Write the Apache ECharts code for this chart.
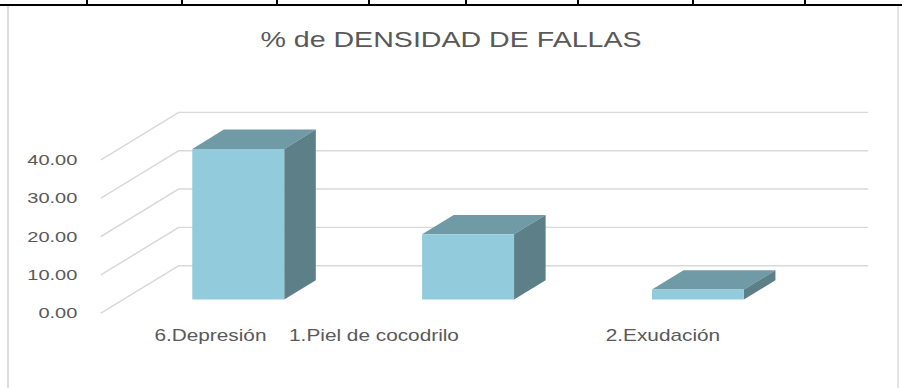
<!DOCTYPE html>
<html>
<head>
<meta charset="utf-8">
<script src="https://cdn.jsdelivr.net/npm/echarts@6/dist/echarts.min.js"></script>
<style>
  html, body { margin: 0; padding: 0; background: #ffffff; overflow: hidden; }
  body { width: 902px; height: 388px; position: relative; }
  /* document table rule above the chart box */
  .rule { position: absolute; left: 0; top: 4px; width: 902px; height: 2px; background: #000; }
  .tick { position: absolute; top: 0; width: 2px; height: 5px; background: #000; }
  /* chart frame */
  .frame { position: absolute; left: 7px; top: 6px; width: 892px; height: 382px;
           border-left: 2px solid #dcdcdc; border-right: 2px solid #e4e4e4; box-sizing: border-box; }
  /* the chart is laid out narrow and widened horizontally */
  #chart { position: absolute; left: 0; top: 0; width: 694px; height: 388px;
           transform: scaleX(1.2997); transform-origin: 0 0; }
</style>
</head>
<body>
<div class="rule"></div>
<div class="tick" style="left:86px"></div>
<div class="tick" style="left:181px"></div>
<div class="tick" style="left:276px"></div>
<div class="tick" style="left:368px"></div>
<div class="tick" style="left:465px"></div>
<div class="tick" style="left:577px"></div>
<div class="tick" style="left:692px"></div>
<div class="tick" style="left:804px"></div>
<div class="frame"></div>
<div id="chart"></div>
<script>
// Data
const CATEGORIES = ['6.Depresión', '1.Piel de cocodrilo', '2.Exudación'];
const DENSITY = [39.3, 17.0, 2.6];
const Y_TICKS = [0, 10, 20, 30, 40];
const TITLE = '% de DENSIDAD DE FALLAS';

// Pseudo-3D geometry (pixels in the unstretched layout)
const DEPTH_X = 60;      // full floor depth, horizontal
const DEPTH_Y = -47.6;   // full floor depth, vertical
const BAR_FRONT = 0.29;  // bar front face position within the depth
const BAR_BACK = 0.695;  // bar back face position within the depth
const BAR_WIDTH = 0.40;  // share of the category band

// horizontal nudge of each category label
const LABEL_SHIFT = [8, 110, 19];

const FRONT = '#92CBDC';
const TOP = '#6F9AA6';
const SIDE = '#5D7F88';
const GRID = '#D9D9D9';
const TEXT = '#595959';
const FONT = '"Liberation Sans", Arial, sans-serif';

const chart = echarts.init(document.getElementById('chart'), null, { renderer: 'svg' });

const rich = {};
LABEL_SHIFT.forEach((p, i) => {
  rich['c' + i] = { fontSize: 16, fontFamily: FONT, color: TEXT, padding: [0, p, 0, 0] };
});

function renderWall(params, api) {
  const cs = params.coordSys;
  const y = api.coord([0, api.value(1)])[1];
  const x0 = cs.x;
  return {
    type: 'polyline',
    silent: true,
    shape: { points: [[x0, y], [x0 + DEPTH_X, y + DEPTH_Y], [x0 + cs.width + DEPTH_X, y + DEPTH_Y]] },
    style: { stroke: GRID, lineWidth: 1.4, fill: null }
  };
}

function renderBar(params, api) {
  const i = api.value(0);
  const base = api.coord([i, 0]);
  const top = api.coord([i, api.value(1)]);
  const w = api.size([1, 0])[0] * BAR_WIDTH;
  const ox = DEPTH_X * BAR_FRONT, oy = DEPTH_Y * BAR_FRONT;
  const dx = DEPTH_X * (BAR_BACK - BAR_FRONT), dy = DEPTH_Y * (BAR_BACK - BAR_FRONT);
  const xl = base[0] - w / 2 + ox, xr = xl + w;
  const yb = base[1] + oy, yt = top[1] + oy;
  return {
    type: 'group',
    children: [
      { type: 'polygon', shape: { points: [[xl, yt], [xr, yt], [xr + dx, yt + dy], [xl + dx, yt + dy]] },
        style: { fill: TOP } },
      { type: 'polygon', shape: { points: [[xr, yt], [xr + dx, yt + dy], [xr + dx, yb + dy], [xr, yb]] },
        style: { fill: SIDE } },
      { type: 'rect', shape: { x: xl, y: yt, width: w, height: yb - yt },
        style: { fill: FRONT } }
    ]
  };
}

chart.setOption({
  animation: false,
  backgroundColor: 'transparent',
  title: {
    text: TITLE,
    left: 'center',
    top: 23,
    textStyle: { fontSize: 22, fontWeight: 'normal', color: TEXT, fontFamily: FONT }
  },
  grid: { left: 77.5, top: 160, width: 530.5, height: 153.3, outerBoundsMode: 'none' },
  xAxis: {
    type: 'category',
    data: CATEGORIES,
    axisLine: { show: false },
    axisTick: { show: false },
    axisLabel: {
      margin: 14,
      interval: 0,
      formatter: (v, i) => '{c' + i + '|' + v + '}',
      rich: rich
    }
  },
  yAxis: {
    type: 'value',
    min: 0,
    max: 40,
    interval: 10,
    axisLine: { show: false },
    axisTick: { show: false },
    splitLine: { show: false },
    axisLabel: {
      margin: 18,
      fontSize: 15.4,
      fontFamily: FONT,
      color: TEXT,
      formatter: v => v.toFixed(2)
    }
  },
  series: [
    {
      type: 'custom',
      name: 'wall',
      z: 1,
      silent: true,
      renderItem: renderWall,
      data: Y_TICKS.map(v => [0, v])
    },
    {
      type: 'custom',
      name: '% de densidad',
      z: 2,
      renderItem: renderBar,
      encode: { x: 0, y: 1 },
      data: DENSITY.map((v, i) => [i, v])
    }
  ]
});
</script>
</body>
</html>
